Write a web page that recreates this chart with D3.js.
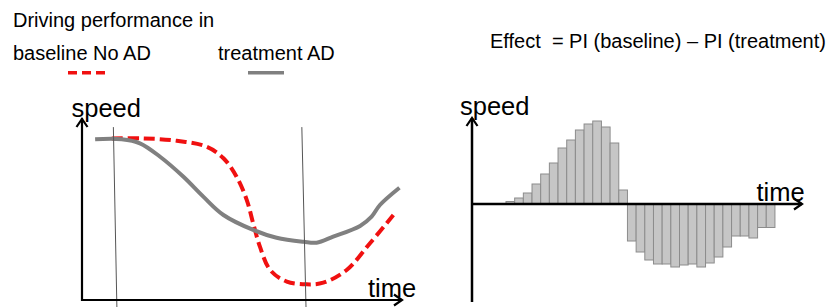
<!DOCTYPE html>
<html>
<head>
<meta charset="utf-8">
<script src="https://cdn.jsdelivr.net/npm/d3@7"></script>
<style>
  body { margin: 0; background: #fff; }
  text { font-family: "Liberation Sans", Arial, sans-serif; fill: #000; }
  .title { font-size: 20px; white-space: pre; }
  .axisLabel { font-size: 25.5px; }
  .axisLine { stroke: #000; stroke-width: 2.2; fill: none; }
  .windowLine { stroke: #555; stroke-width: 1; }
  .baseline { stroke: #f01010; stroke-width: 4; fill: none; stroke-dasharray: 11,5; }
  .treatment { stroke: #808080; stroke-width: 4; fill: none; }
  .effectBar { fill: #c6c6c6; stroke: #8c8c8c; stroke-width: 1; }
</style>
</head>
<body>
<div id="chart"></div>
<script>
// speed over time, left panel (time 0-100, speed 0-100)
var baselineTime  = [9.3, 19.2, 29.6, 39.0, 44.2, 48.3, 51.5, 53.5, 55.6, 58.8, 64.0, 70.2, 75.4, 82.7, 90.0, 97.3];
var baselineSpeed = [88.8, 88.8, 87.5, 84.2, 77.9, 67.7, 54.9, 42.1, 29.3, 16.5, 10.1, 8.6, 9.5, 16.5, 31.2, 46.7];
var treatmentTime  = [4.1, 12.4, 18.1, 24.4, 31.7, 37.9, 44.2, 53.5, 60.8, 69.2, 73.3, 78.5, 86.9, 90.5, 93.1, 99.2];
var treatmentSpeed = [88.3, 88.3, 86.1, 78.7, 67.7, 56.8, 46.7, 38.5, 34.2, 32.0, 31.5, 34.8, 40.7, 45.8, 52.2, 61.7];

// analysis window (time at top and at bottom of each marker)
var windowTop    = [9.8, 68.7];
var windowBottom = [10.9, 70.0];

// effect = PI(baseline) - PI(treatment), one bar per time step
var effectValues = [2.5, 6, 11, 20, 30, 41, 56, 64, 74, 80, 83, 77, 61, 14,
                    -37, -48, -56, -60, -60, -63, -61, -60, -63, -59, -53, -43, -32, -32, -34, -23.5, -23.5];
var effectStart = 10.3, effectEnd = 91.8;

var titleLines = ["Driving performance in"];
var legendLabels = ["baseline No AD", "treatment AD"];
var effectTitle = "Effect  = PI (baseline) \u2013 PI (treatment)";

var width = 828, height = 307;

var svg = d3.select("#chart").append("svg")
  .attr("width", width)
  .attr("height", height);

// open chevron arrowhead
function arrowHead(g, x, y, angle) {
  g.append("path")
    .attr("class", "axisLine")
    .attr("transform", "translate(" + x + "," + y + ") rotate(" + angle + ")")
    .attr("d", "M-8,-5.5 L0,0 L-8,5.5");
}

/**
 * Title and legend
 */
svg.append("text").attr("class", "title").attr("x", 13).attr("y", 26.5).text(titleLines[0]);
svg.append("text").attr("class", "title").attr("x", 13).attr("y", 60).text(legendLabels[0]);
svg.append("text").attr("class", "title").attr("x", 218).attr("y", 60).text(legendLabels[1]);
svg.append("line").attr("class", "baseline")
  .attr("x1", 68).attr("x2", 105).attr("y1", 72.7).attr("y2", 72.7)
  .style("stroke-dasharray", "9,5").style("stroke-width", 3.5);
svg.append("line").attr("class", "treatment")
  .attr("x1", 248).attr("x2", 284).attr("y1", 72.7).attr("y2", 72.7)
  .style("stroke-width", 3.5);
svg.append("text").attr("class", "title").attr("x", 490).attr("y", 48.3).text(effectTitle);

/**
 * Left panel: speed profiles
 */
var x1 = d3.scaleLinear().domain([0, 100]).range([82, 402]);
var y1 = d3.scaleLinear().domain([0, 100]).range([300, 118]);
var left = svg.append("g");

var line1 = d3.line()
  .x(function(d){ return x1(d[0]); })
  .y(function(d){ return y1(d[1]); })
  .curve(d3.curveCatmullRom.alpha(0.5));

left.append("path").attr("class", "baseline")
  .attr("d", line1(d3.zip(baselineTime, baselineSpeed)));
left.append("path").attr("class", "treatment")
  .attr("d", line1(d3.zip(treatmentTime, treatmentSpeed)));

windowTop.forEach(function(t, i){
  left.append("line").attr("class", "windowLine")
    .attr("x1", x1(t)).attr("y1", y1(95))
    .attr("x2", x1(windowBottom[i])).attr("y2", y1(-4));
});

left.append("path").attr("class", "axisLine")
  .attr("d", "M" + x1(0) + "," + y1(100) + " V" + y1(0) + " H" + x1(100));
arrowHead(left, x1(0), y1(100) + 1, -90);
arrowHead(left, x1(100), y1(0), 0);

left.append("text").attr("class", "axisLabel").attr("x", 71.5).attr("y", 116.5).text("speed");
left.append("text").attr("class", "axisLabel").attr("x", 368).attr("y", 296.5).text("time");

/**
 * Right panel: effect per time step
 */
var x2 = d3.scaleLinear().domain([0, 100]).range([472, 802]);
var y2 = d3.scaleLinear().domain([-98, 98]).range([302, 106]);
var xb = d3.scaleBand()
  .domain(d3.range(effectValues.length))
  .range([x2(effectStart), x2(effectEnd)])
  .padding(0);
var right = svg.append("g");

right.selectAll("rect")
  .data(effectValues)
  .enter().append("rect")
  .attr("class", "effectBar")
  .attr("x", function(d, i){ return xb(i); })
  .attr("width", xb.bandwidth())
  .attr("y", function(d){ return d > 0 ? y2(d) : y2(0); })
  .attr("height", function(d){ return Math.abs(y2(d) - y2(0)); });

right.append("line").attr("class", "axisLine")
  .attr("x1", x2(0)).attr("x2", x2(0)).attr("y1", y2(-98)).attr("y2", y2(86))
  .style("stroke-width", 2.5);
right.append("line").attr("class", "axisLine")
  .attr("x1", x2(0)).attr("x2", x2(100)).attr("y1", y2(0)).attr("y2", y2(0))
  .style("stroke-width", 2.5);
arrowHead(right, x2(0), y2(86), -90);
arrowHead(right, x2(100), y2(0), 0);

right.append("text").attr("class", "axisLabel").attr("x", 460).attr("y", 115).text("speed");
right.append("text").attr("class", "axisLabel").attr("x", 756.5).attr("y", 201).text("time");
</script>
</body>
</html>
